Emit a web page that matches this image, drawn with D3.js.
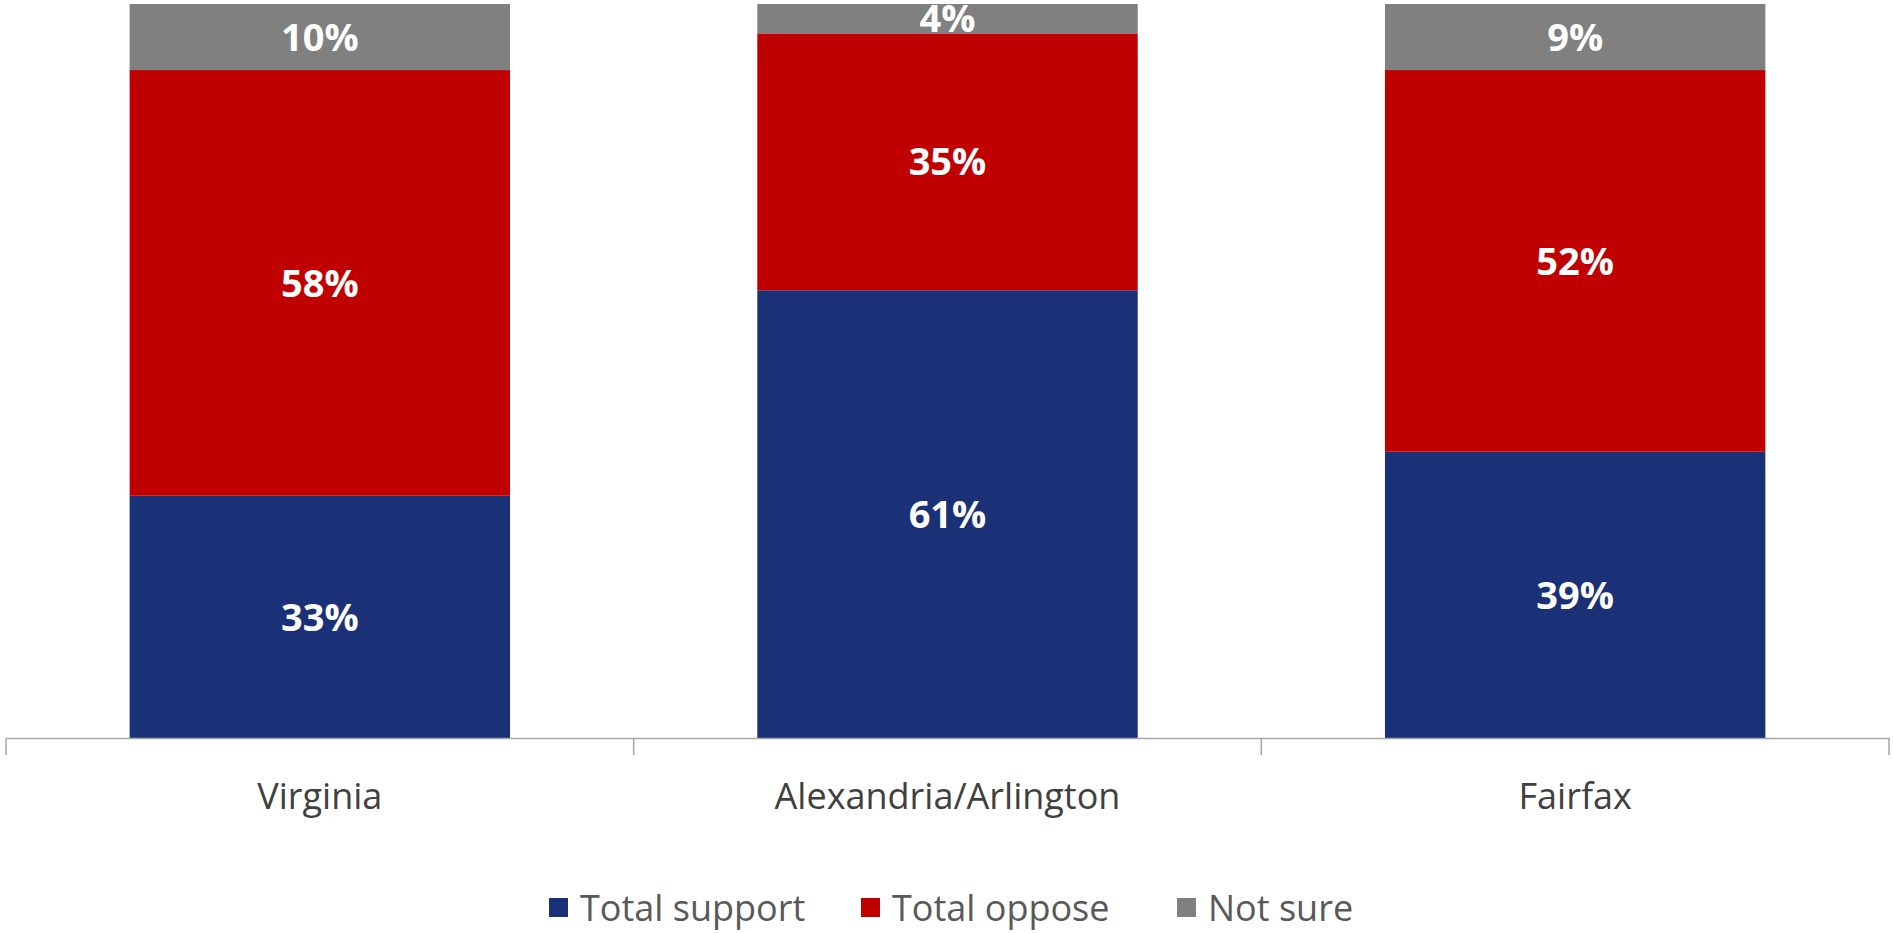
<!DOCTYPE html>
<html>
<head>
<meta charset="utf-8">
<script src="https://cdn.jsdelivr.net/npm/d3@7"></script>
<style>
  html, body { margin: 0; padding: 0; background: #fff; }
  svg text { font-family: "Open Sans", "Noto Sans", sans-serif; }
</style>
</head>
<body>
<div class="chart"></div>
<script>
// survey results by region, in percent
const regions = ["Virginia", "Alexandria/Arlington", "Fairfax"]
const support = [33, 61, 39]
const oppose = [58, 35, 52]
const notSure = [10, 4, 9]

const seriesNames = ["Total support", "Total oppose", "Not sure"]
const seriesColors = ["#1a3177", "#c00000", "#808080"]

const width = 1893, height = 933
const margin = ({top: 4, right: 4, bottom: 195, left: 6})

const svg = d3.select('.chart').append('svg')
    .attr('width', width)
    .attr('height', height)

const rows = regions.map((r, i) => ({
    region: r,
    "Total support": support[i],
    "Total oppose": oppose[i],
    "Not sure": notSure[i]
}))

const stacked = d3.stack().keys(seriesNames)(rows)

const x = d3.scaleBand()
    .domain(regions)
    .range([margin.left, width - margin.right])
    .paddingInner(0)

// 65% gap between bars
const barWidth = x.bandwidth() / 1.65

const y = d3.scaleLinear()
    .domain([0, 100])
    .range([height - margin.bottom, margin.top])
    .clamp(true)

const color = d3.scaleOrdinal().domain(seriesNames).range(seriesColors)

const layers = svg.append('g')
    .selectAll('g')
    .data(stacked)
    .join('g')
    .attr('fill', d => color(d.key))

layers.selectAll('rect')
    .data(d => d)
    .join('rect')
    .attr('x', d => x(d.data.region) + (x.bandwidth() - barWidth) / 2)
    .attr('y', d => y(d[1]))
    .attr('width', barWidth)
    .attr('height', d => y(d[0]) - y(d[1]))

layers.selectAll('text')
    .data(d => d.map(v => ({v, key: d.key})))
    .join('text')
    .attr('x', d => x(d.v.data.region) + x.bandwidth() / 2)
    .attr('y', d => (y(d.v[0]) + y(d.v[1])) / 2)
    .attr('dy', '0.36em')
    .attr('text-anchor', 'middle')
    .attr('fill', '#fff')
    .attr('font-weight', 'bold')
    .attr('font-size', 38)
    .text(d => d.v.data[d.key] + '%')

// category axis
const xAxis = d3.axisBottom(x)
    .tickSize(0)
    .tickPadding(45)

const axisG = svg.append('g')
    .attr('class', 'x-axis')
    .attr('transform', `translate(0, ${height - margin.bottom})`)
    .call(xAxis)

axisG.select('.domain').attr('stroke', '#a6a6a6').attr('stroke-width', 1.5)
axisG.selectAll('text')
    .attr('font-size', 36)
    .attr('fill', '#404040')
    .style('font-family', '"Open Sans", sans-serif')

// separators between categories
const edges = regions.map(r => x(r)).concat([x(regions[regions.length - 1]) + x.bandwidth()])
axisG.selectAll('.sep')
    .data(edges)
    .join('line')
    .attr('class', 'sep')
    .attr('x1', d => d).attr('x2', d => d)
    .attr('y1', 0).attr('y2', 17)
    .attr('stroke', '#a6a6a6')
    .attr('stroke-width', 1.5)

// legend
const legendX = [549, 861, 1177]
const legend = svg.append('g')
    .selectAll('g')
    .data(seriesNames)
    .join('g')
    .attr('transform', (d, i) => `translate(${legendX[i]}, 898)`)

legend.append('rect')
    .attr('width', 19)
    .attr('height', 19)
    .attr('fill', d => color(d))

legend.append('text')
    .attr('x', 31)
    .attr('y', 10)
    .attr('dy', '0.36em')
    .attr('font-size', 36)
    .attr('fill', '#595959')
    .text(d => d)
</script>
</body>
</html>
